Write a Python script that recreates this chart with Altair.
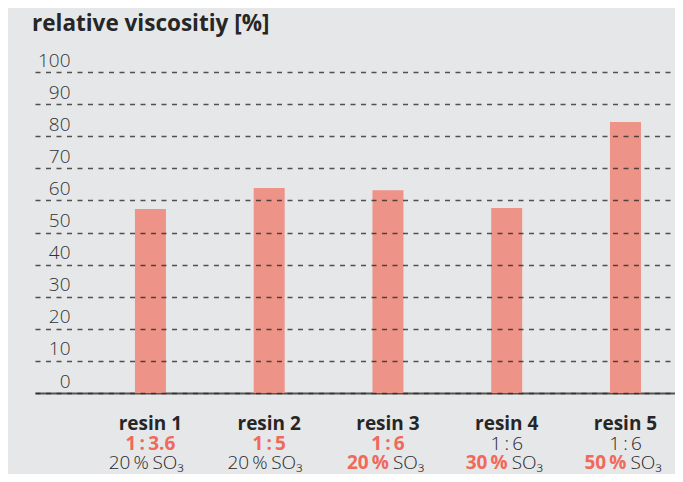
import altair as alt
import pandas as pd

# ---- data ----
resins = ["resin 1", "resin 2", "resin 3", "resin 4", "resin 5"]
viscosity = [57.3, 63.9, 63.2, 57.6, 84.4]
ratios = ["1\u2009:\u20093.6", "1\u2009:\u20095", "1\u2009:\u20096", "1\u2009:\u20096", "1\u2009:\u20096"]
ratio_highlight = [True, True, True, False, False]
so3_pct = ["20\u2009%", "20\u2009%", "20\u2009%", "30\u2009%", "50\u2009%"]
so3_highlight = [False, False, True, True, True]
y_ticks = [0, 10, 20, 30, 40, 50, 60, 70, 80, 90, 100]

df = pd.DataFrame({
    "resin": resins,
    "v": viscosity,
    "ratio": ratios,
    "rhl": ratio_highlight,
    "pct": so3_pct,
    "shl": so3_highlight,
    "so": ["SO\u2083"] * len(resins),
})

FONT = "Open Sans"
ORANGE = "#f0695b"
DARK = "#262626"
BG = "#e6e7e9"
FS = 19

x = alt.X(
    "resin:N", sort=resins,
    scale=alt.Scale(paddingInner=0.739, paddingOuter=0.564, align=0.746, round=False),
    axis=alt.Axis(labels=False, ticks=False, title=None, domain=True,
                  domainColor="#555555", domainWidth=2, grid=False),
)
base = alt.Chart(df).encode(x=x)

bars = base.mark_bar(color="#ee9387").encode(
    y=alt.Y(
        "v:Q", scale=alt.Scale(domain=[0, 100]),
        axis=alt.Axis(values=y_ticks, title=None, domain=False, ticks=False,
                      grid=True, gridDash=[5, 5.5], gridColor="#2a2a2a",
                      gridWidth=1.3, gridOpacity=0.8,
                      labelAlign="right", labelBaseline="middle",
                      labelPadding=-35, labelOffset=-12, labelFontSize=19,
                      labelColor="#333333", labelFont=FONT, labelFontWeight=300,
                      zindex=1),
    )
)

R1, R2, R3 = 358, 378, 397  # baselines of the three label rows (plot px)

row1 = base.mark_text(font=FONT, fontSize=FS, fontWeight="bold", color=DARK,
                      baseline="alphabetic").encode(y=alt.value(R1), text="resin:N")

row2_hl = base.mark_text(font=FONT, fontSize=FS, fontWeight="bold", color=ORANGE,
                         baseline="alphabetic").encode(y=alt.value(R2), text="ratio:N"
                         ).transform_filter("datum.rhl")
row2_reg = base.mark_text(font=FONT, fontSize=FS, fontWeight=300, color=DARK,
                          baseline="alphabetic").encode(y=alt.value(R2), text="ratio:N"
                          ).transform_filter("!datum.rhl")

row3_pct_hl = base.mark_text(font=FONT, fontSize=FS, fontWeight="bold", color=ORANGE,
                             baseline="alphabetic", align="right", dx=1).encode(
    y=alt.value(R3), text="pct:N").transform_filter("datum.shl")
row3_so_hl = base.mark_text(font=FONT, fontSize=FS, fontWeight=300, color=DARK,
                            baseline="alphabetic", align="left", dx=5).encode(
    y=alt.value(R3), text="so:N").transform_filter("datum.shl")
row3_pct_reg = base.mark_text(font=FONT, fontSize=FS, fontWeight=300, color=DARK,
                              baseline="alphabetic", align="right", dx=-1.5).encode(
    y=alt.value(R3), text="pct:N").transform_filter("!datum.shl")
row3_so_reg = base.mark_text(font=FONT, fontSize=FS, fontWeight=300, color=DARK,
                             baseline="alphabetic", align="left", dx=2).encode(
    y=alt.value(R3), text="so:N").transform_filter("!datum.shl")

chart = alt.layer(
    bars, row1, row2_hl, row2_reg, row3_pct_hl, row3_so_hl, row3_pct_reg, row3_so_reg
).properties(
    width=640, height=321,
    padding={"left": 27, "top": 64, "right": 0, "bottom": 81},
    autosize=alt.AutoSizeParams(type="none"),
    background=BG,
    title=alt.Title("relative viscositiy [%]", anchor="start", frame="group",
                    offset=-2, font=FONT, fontSize=22.5, fontWeight="bold",
                    color=DARK, baseline="alphabetic", dx=-3),
).configure_view(stroke=None)

chart.save("out.html", embed_options={"renderer": "svg", "actions": False})
